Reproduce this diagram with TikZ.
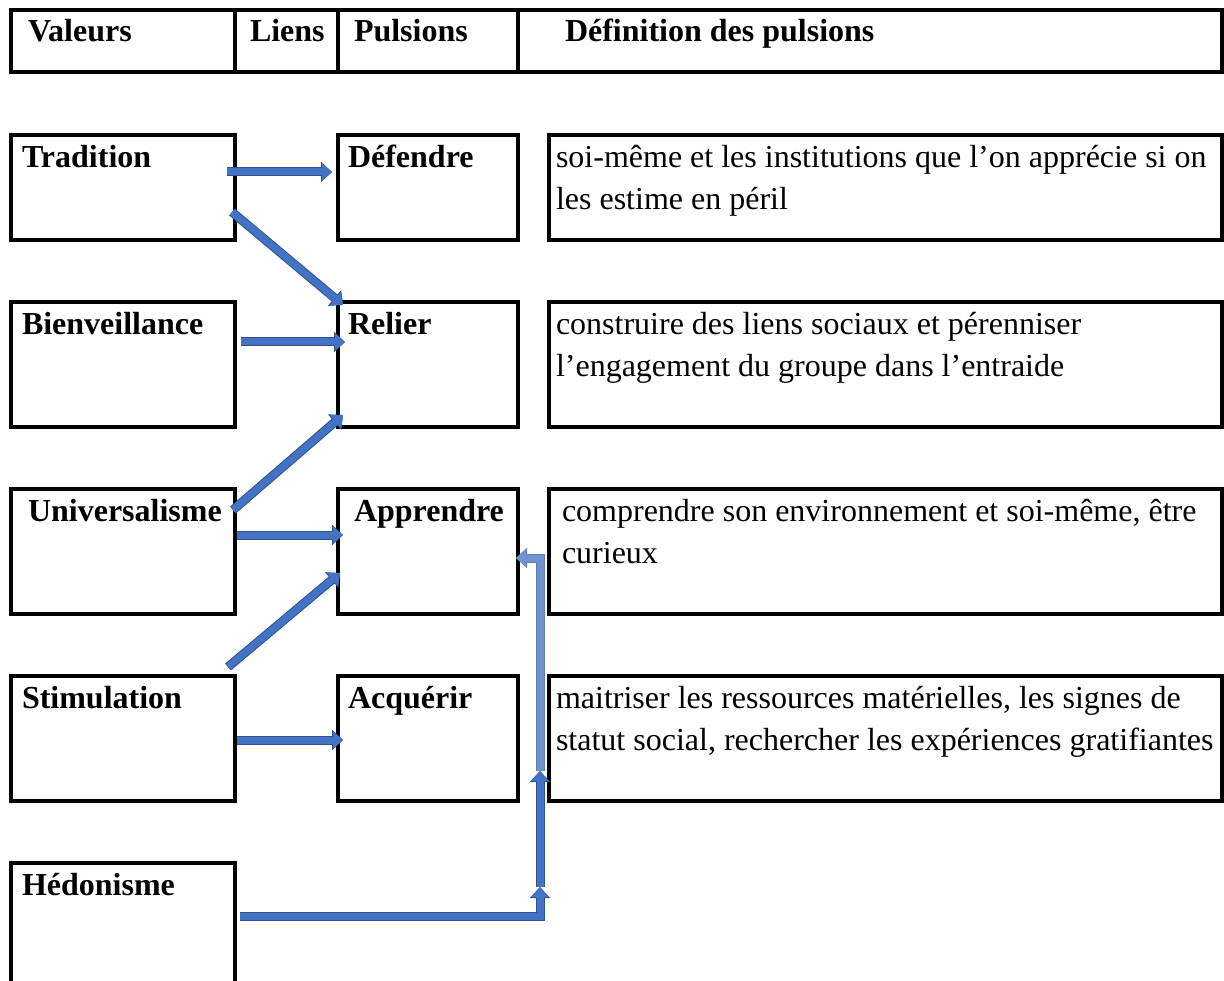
\documentclass[tikz,border=0pt]{standalone}
\usepackage{fontspec}
\setmainfont{Liberation Serif}
\usetikzlibrary{positioning,arrows.meta}
\definecolor{lienbleu}{RGB}{68,114,196}
\definecolor{lienbord}{RGB}{47,82,143}
\definecolor{lienclair}{RGB}{112,144,208}
\definecolor{lienclairbord}{RGB}{96,126,188}

\begin{document}
\begin{tikzpicture}[x=1pt, y=-1pt,
    cellule/.style={draw, line width=3.5pt, outer sep=0pt, inner ysep=0pt, align=flush left,
      font=\fontsize{32}{42}\selectfont},
    gras/.style={font=\fontsize{32}{42}\selectfont\bfseries},
    entete/.style={cellule, gras, text height=32pt, text depth=30pt},
    valeur/.style={cellule, gras, inner xsep=11pt, text width=202pt, text height=32.5pt, text depth=92.5pt},
    pulsion/.style={cellule, gras, inner xsep=10pt, text width=160pt, text height=32.5pt, text depth=92.5pt},
    definition/.style={cellule, inner xsep=7pt, text width=659pt, text height=32.5pt, text depth=92.5pt},
    lien/.style={draw=lienbleu, line width=7pt, -{Triangle[length=10pt,width=17pt]},
      preaction={draw=lienbord, line width=9pt, -{Triangle[length=11pt,width=20pt]}}},
    lienpale/.style={draw=lienclair, line width=7pt, -{Triangle[length=10pt,width=17pt]},
      preaction={draw=lienclairbord, line width=9pt, -{Triangle[length=11pt,width=20pt]}}}
  ]
  \useasboundingbox (0,0) rectangle (1224,981);

  % En-tete
  \node[entete, inner xsep=17pt, text width=190pt, anchor=north west] (hval) at (11,10) {Valeurs};
  \node[entete, inner xsep=15pt, text width=73pt, right=0pt of hval] (hlien) {Liens};
  \node[entete, inner xsep=16pt, text width=148pt, right=0pt of hlien] (hpuls) {Pulsions};
  \node[entete, inner xsep=47pt, text width=610pt, right=0pt of hpuls] (hdef) {Définition des pulsions};

  % Valeurs, pulsions et definitions
  \node[valeur, text depth=72.5pt, below=63pt of hval] (trad) {Tradition};
  \node[pulsion, text depth=72.5pt, right=103pt of trad] (def) {Défendre};
  \node[definition, text depth=72.5pt, right=31pt of def] (ddef) {soi-même et les institutions que l’on apprécie si on\\les estime en péril};

  \node[valeur, below=62pt of trad] (bien) {Bienveillance};
  \node[pulsion, right=103pt of bien] (rel) {Relier};
  \node[definition, right=31pt of rel] (drel) {construire des liens sociaux et pérenniser\\l’engagement du groupe dans l’entraide};

  \node[valeur, inner xsep=17pt, text width=190pt, below=62pt of bien] (univ) {Universalisme};
  \node[pulsion, inner xsep=16pt, text width=148pt, right=103pt of univ] (app) {Apprendre};
  \node[definition, inner xsep=13pt, text width=647pt, right=31pt of app] (dapp) {comprendre son environnement et soi-même, être\\curieux};

  \node[valeur, below=62pt of univ] (stim) {Stimulation};
  \node[pulsion, right=103pt of stim] (acq) {Acquérir};
  \node[definition, right=31pt of acq] (dacq) {maitriser les ressources matérielles, les signes de\\statut social, rechercher les expériences gratifiantes};

  \node[valeur, below=62pt of stim] (hedo) {Hédonisme};

  % Liens
  \draw[lien] ([shift={(-8pt,-37pt)}]trad.north east) -- ([shift={(-6pt,-37pt)}]def.north west);
  \draw[lien] ([shift={(-3pt,-77pt)}]trad.north east) -- ([shift={(5pt,-3pt)}]rel.north west);
  \draw[lien] ([shift={(6pt,-40pt)}]bien.north east) -- ([shift={(7pt,-40pt)}]rel.north west);
  \draw[lien] ([shift={(-2pt,-21pt)}]univ.north east) -- ([shift={(5pt,12pt)}]rel.south west);
  \draw[lien] ([shift={(2pt,-46pt)}]univ.north east) -- ([shift={(5pt,-46pt)}]app.north west);
  \draw[lien] ([shift={(-7pt,9pt)}]stim.north east) -- ([shift={(2pt,41pt)}]app.south west);
  \draw[lien] ([shift={(2pt,-64pt)}]stim.north east) -- ([shift={(5pt,-64pt)}]acq.north west);

  \coordinate (relaisA) at ([shift={(22pt,-86pt)}]acq.south east);
  \coordinate (relaisB) at ([shift={(22pt,30pt)}]acq.south east);
  \draw[lien] ([shift={(5pt,-53pt)}]hedo.north east) -| (relaisA);
  \draw[lien] (relaisA) -- (relaisB);
  \draw[lienpale] (relaisB) |- ([shift={(-2pt,-69pt)}]app.north east);
\end{tikzpicture}
\end{document}
